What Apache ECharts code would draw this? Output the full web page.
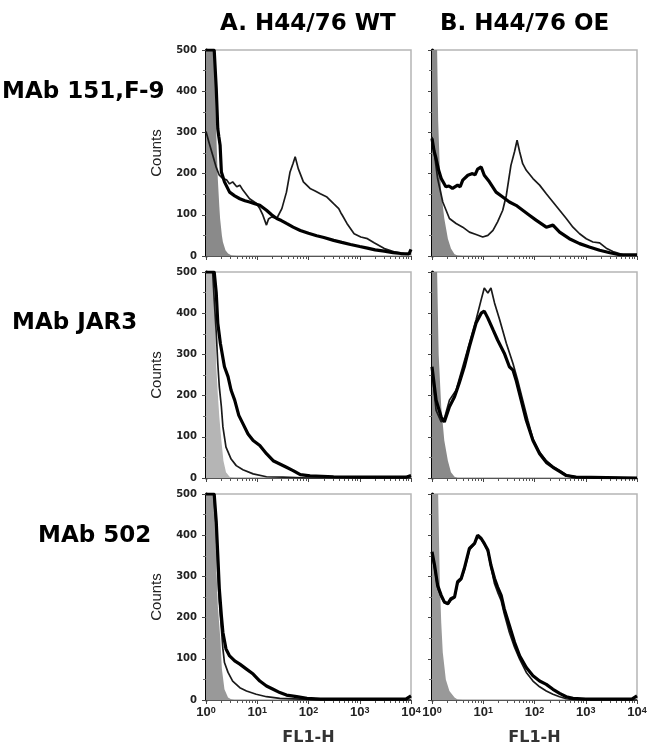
<!DOCTYPE html>
<html>
<head>
<meta charset="utf-8">
<script src="https://cdn.jsdelivr.net/npm/echarts@6/dist/echarts.min.js"></script>
<style>
  html, body { margin: 0; padding: 0; background: #fff; }
  #chart { width: 650px; height: 750px; }
</style>
</head>
<body>
<div id="chart"></div>
<script>
// x values are read in decades (10^x), y values are counts
var columnTitles = ['A. H44/76 WT', 'B. H44/76 OE']
var rowTitles = ['MAb 151,F-9', 'MAb JAR3', 'MAb 502']

// MAb 151,F-9
var wtF9Gray = [[0, 500], [0.16, 500], [0.2, 300], [0.23, 188], [0.26, 120], [0.275, 91], [0.31, 50], [0.33, 34], [0.38, 14], [0.43, 6], [0.5, 1], [0.6, 0]]
var wtF9Thick = [[0, 500], [0.16, 500], [0.2, 407], [0.23, 309], [0.25, 290], [0.275, 269], [0.3, 204], [0.36, 180], [0.46, 155], [0.56, 146], [0.66, 139], [0.76, 134], [0.85, 131], [0.95, 127], [1.05, 123], [1.18, 111], [1.28, 100], [1.38, 91], [1.47, 86], [1.57, 79], [1.7, 70], [1.84, 62], [2.0, 55], [2.16, 49], [2.3, 45], [2.49, 38], [2.65, 33], [2.82, 28], [3.0, 23], [3.15, 19], [3.3, 15], [3.48, 12], [3.65, 8], [3.8, 6], [3.96, 5], [4, 16]]
var wtF9Thin = [[0, 302], [0.06, 275], [0.13, 245], [0.2, 215], [0.26, 196], [0.33, 188], [0.4, 185], [0.46, 175], [0.52, 180], [0.6, 168], [0.66, 172], [0.72, 160], [0.85, 139], [0.98, 128], [1.05, 115], [1.11, 99], [1.18, 75], [1.22, 90], [1.28, 95], [1.38, 91], [1.48, 115], [1.57, 155], [1.64, 204], [1.7, 225], [1.74, 241], [1.8, 212], [1.9, 180], [2.03, 164], [2.13, 158], [2.23, 151], [2.36, 143], [2.49, 127], [2.59, 115], [2.63, 105], [2.66, 99], [2.75, 79], [2.89, 54], [3.02, 46], [3.15, 42], [3.28, 32], [3.48, 18], [3.67, 10], [3.87, 6], [4, 5]]
var oeF9Gray = [[0, 500], [0.1, 500], [0.12, 330], [0.15, 220], [0.18, 155], [0.24, 91], [0.31, 42], [0.37, 18], [0.44, 4], [0.5, 1], [0.6, 0]]
var oeF9Thick = [[0, 285], [0.04, 255], [0.08, 236], [0.13, 208], [0.18, 188], [0.27, 168], [0.33, 170], [0.4, 164], [0.5, 172], [0.55, 168], [0.6, 184], [0.7, 196], [0.79, 200], [0.84, 197], [0.89, 211], [0.96, 216], [1.02, 196], [1.12, 180], [1.25, 155], [1.38, 143], [1.51, 131], [1.64, 123], [1.77, 111], [1.9, 99], [2.03, 87], [2.23, 70], [2.36, 75], [2.49, 58], [2.68, 42], [2.88, 30], [3.07, 22], [3.27, 14], [3.47, 8], [3.66, 3], [4, 3]]
var oeF9Thin = [[0, 289], [0.05, 245], [0.11, 188], [0.21, 131], [0.34, 91], [0.47, 79], [0.6, 70], [0.73, 58], [0.86, 52], [0.99, 46], [1.09, 50], [1.19, 62], [1.28, 83], [1.38, 111], [1.45, 147], [1.5, 188], [1.54, 220], [1.61, 253], [1.66, 281], [1.71, 253], [1.77, 224], [1.84, 208], [1.97, 188], [2.1, 172], [2.23, 151], [2.36, 131], [2.49, 111], [2.62, 91], [2.75, 70], [2.88, 54], [3.01, 42], [3.14, 34], [3.27, 32], [3.4, 19], [3.53, 11], [3.73, 3], [4, 3]]

// MAb JAR3
var wtJarGray = [[0, 500], [0.16, 500], [0.2, 270], [0.23, 205], [0.26, 148], [0.3, 91], [0.34, 42], [0.39, 14], [0.46, 3], [0.55, 0]]
var wtJarThick = [[0, 500], [0.16, 500], [0.2, 449], [0.23, 376], [0.28, 327], [0.36, 270], [0.43, 246], [0.49, 213], [0.56, 189], [0.64, 152], [0.72, 132], [0.82, 107], [0.92, 91], [1.05, 79], [1.18, 59], [1.31, 42], [1.44, 34], [1.57, 26], [1.7, 18], [1.84, 8], [2.03, 5], [2.49, 3], [3.0, 2], [3.9, 2], [4, 6]]
var wtJarThin = [[0, 500], [0.13, 500], [0.16, 433], [0.2, 352], [0.23, 278], [0.26, 221], [0.3, 173], [0.33, 124], [0.39, 75], [0.49, 46], [0.59, 30], [0.72, 20], [0.92, 10], [1.18, 3], [1.5, 2], [2, 0], [4, 0]]
var oeJarGray = [[0, 500], [0.1, 500], [0.13, 300], [0.18, 173], [0.24, 91], [0.31, 42], [0.37, 14], [0.44, 3], [0.5, 0]]
var oeJarThick = [[0, 270], [0.08, 189], [0.18, 148], [0.24, 136], [0.34, 173], [0.44, 197], [0.53, 230], [0.63, 270], [0.73, 319], [0.86, 376], [0.96, 400], [1.02, 405], [1.09, 388], [1.19, 360], [1.28, 335], [1.41, 303], [1.51, 270], [1.58, 262], [1.64, 238], [1.74, 189], [1.84, 140], [1.97, 91], [2.1, 59], [2.23, 38], [2.36, 26], [2.49, 16], [2.62, 6], [2.81, 2], [4, 0]]
var oeJarThin = [[0, 262], [0.08, 164], [0.18, 136], [0.24, 144], [0.34, 189], [0.47, 213], [0.6, 270], [0.73, 327], [0.86, 384], [0.96, 433], [1.02, 461], [1.09, 449], [1.15, 461], [1.22, 425], [1.32, 384], [1.45, 327], [1.58, 278], [1.67, 238], [1.77, 189], [1.87, 140], [1.97, 95], [2.1, 63], [2.23, 42], [2.36, 28], [2.49, 18], [2.62, 8], [2.81, 2], [4, 0]]

// MAb 502
var wt502Gray = [[0, 500], [0.18, 500], [0.2, 330], [0.23, 230], [0.28, 148], [0.31, 75], [0.36, 26], [0.43, 6], [0.49, 2], [0.55, 0]]
var wt502Thick = [[0, 500], [0.16, 500], [0.2, 433], [0.23, 352], [0.26, 270], [0.3, 205], [0.33, 164], [0.39, 124], [0.46, 107], [0.56, 95], [0.66, 87], [0.79, 75], [0.92, 63], [1.05, 46], [1.18, 34], [1.31, 26], [1.44, 18], [1.57, 12], [1.77, 8], [1.97, 4], [2.23, 2], [3.9, 2], [4, 10]]
var wt502Thin = [[0, 500], [0.15, 500], [0.2, 417], [0.23, 311], [0.26, 238], [0.3, 173], [0.33, 124], [0.36, 91], [0.43, 67], [0.52, 46], [0.66, 30], [0.79, 22], [0.98, 14], [1.18, 8], [1.44, 4], [1.84, 2], [2.3, 0], [4, 0]]
var oe502Gray = [[0, 500], [0.12, 500], [0.15, 300], [0.18, 189], [0.21, 116], [0.27, 50], [0.34, 22], [0.44, 6], [0.5, 1], [0.6, 0]]
var oe502Thick = [[0, 360], [0.05, 327], [0.11, 278], [0.18, 254], [0.24, 238], [0.31, 234], [0.37, 246], [0.44, 250], [0.5, 287], [0.57, 295], [0.63, 319], [0.73, 368], [0.83, 380], [0.89, 400], [0.96, 392], [1.02, 380], [1.09, 364], [1.15, 327], [1.22, 295], [1.28, 274], [1.35, 254], [1.41, 221], [1.51, 181], [1.61, 140], [1.71, 107], [1.84, 79], [1.97, 59], [2.1, 46], [2.23, 38], [2.36, 26], [2.49, 16], [2.62, 8], [2.75, 4], [3.0, 2], [3.9, 2], [4, 10]]
var oe502Thin = [[0, 352], [0.05, 320], [0.11, 272], [0.18, 250], [0.24, 236], [0.31, 232], [0.37, 242], [0.44, 248], [0.5, 283], [0.57, 292], [0.63, 315], [0.73, 364], [0.83, 378], [0.89, 396], [0.96, 390], [1.02, 378], [1.09, 360], [1.15, 323], [1.22, 282], [1.28, 262], [1.35, 241], [1.41, 209], [1.51, 164], [1.61, 128], [1.71, 99], [1.84, 67], [1.97, 46], [2.1, 32], [2.23, 22], [2.36, 14], [2.49, 8], [2.62, 3], [2.75, 1], [4, 0]]

var panels = [
	{ gray: wtF9Gray, thick: wtF9Thick, thin: wtF9Thin, fill: '#8a8a8a' },
	{ gray: oeF9Gray, thick: oeF9Thick, thin: oeF9Thin, fill: '#8a8a8a' },
	{ gray: wtJarGray, thick: wtJarThick, thin: wtJarThin, fill: '#b5b5b5' },
	{ gray: oeJarGray, thick: oeJarThick, thin: oeJarThin, fill: '#8a8a8a' },
	{ gray: wt502Gray, thick: wt502Thick, thin: wt502Thin, fill: '#999' },
	{ gray: oe502Gray, thick: oe502Thick, thin: oe502Thin, fill: '#999' }
]

var colLeft = [206, 432]
var rowTop = [50, 272, 494]
var fontMain = 'DejaVu Sans'

function toFL(arr) {
	return arr.map(function (p) { return [Math.pow(10, p[0]), p[1]] })
}

var grids = [], xAxes = [], yAxes = [], series = []
panels.forEach(function (p, i) {
	var row = Math.floor(i / 2), col = i % 2
	var isBottom = row === 2
	grids.push({
		left: colLeft[col], top: rowTop[row], width: 205, height: 206,
		show: true, borderColor: '#b5b5b5', borderWidth: 1.5, backgroundColor: '#fff'
	})
	xAxes.push({
		gridIndex: i,
		type: 'log',
		logBase: 10,
		min: 1,
		max: 10000,
		axisLine: { lineStyle: { color: '#555', width: 1.2 } },
		axisTick: { show: true, length: 4, lineStyle: { color: '#444' } },
		minorTick: { show: true, splitNumber: 9, length: 3, lineStyle: { color: '#555' } },
		splitLine: { show: false },
		axisLabel: {
			show: isBottom,
			margin: 6,
			formatter: function (v) {
				var e = Math.round(Math.log10(v))
				return '{b|10}{s|' + e + '}'
			},
			rich: {
				b: { fontFamily: 'Liberation Sans', fontWeight: 'bold', fontSize: 13, color: '#222', verticalAlign: 'bottom' },
				s: { fontFamily: 'Liberation Sans', fontWeight: 'bold', fontSize: 9, color: '#222', verticalAlign: 'top' }
			}
		},
		name: isBottom ? 'FL1-H' : '',
		nameLocation: 'middle',
		nameGap: 30,
		nameTextStyle: { fontFamily: fontMain, fontWeight: 'bold', fontSize: 16, color: '#333' }
	})
	yAxes.push({
		gridIndex: i,
		type: 'value',
		min: 0,
		max: 500,
		interval: 100,
		axisLine: { show: true, lineStyle: { color: '#000', width: 3 } },
		axisTick: { show: true, length: 4, lineStyle: { color: '#444' } },
		minorTick: { show: true, splitNumber: 2, length: 3, lineStyle: { color: '#666' } },
		splitLine: { show: false },
		axisLabel: {
			show: col === 0,
			margin: 9,
			fontFamily: fontMain, fontWeight: 'bold', fontSize: 10, color: '#222'
		},
		name: col === 0 ? 'Counts' : '',
		nameLocation: 'middle',
		nameGap: 42,
		nameRotate: 90,
		nameTextStyle: { fontFamily: 'Liberation Sans', fontSize: 15, color: '#222' }
	})
	series.push({
		type: 'line', xAxisIndex: i, yAxisIndex: i,
		data: toFL(p.gray), showSymbol: false, symbol: 'none',
		lineStyle: { width: 0 },
		areaStyle: { color: p.fill, opacity: 1 },
		z: 1
	})
	series.push({
		type: 'line', xAxisIndex: i, yAxisIndex: i,
		data: toFL(p.thin), showSymbol: false, symbol: 'none',
		lineStyle: { color: '#1a1a1a', width: 1.7 },
		z: 2
	})
	series.push({
		type: 'line', xAxisIndex: i, yAxisIndex: i,
		data: toFL(p.thick), showSymbol: false, symbol: 'none',
		lineStyle: { color: '#000', width: 3.2 },
		z: 3
	})
})

var titleStyle = { fontFamily: fontMain, fontWeight: 'bold', fontSize: 23, fill: '#000' }
var graphics = [
	{ type: 'text', left: 220, top: 13, style: Object.assign({ text: columnTitles[0] }, titleStyle) },
	{ type: 'text', left: 440, top: 13, style: Object.assign({ text: columnTitles[1] }, titleStyle) },
	{ type: 'text', left: 2, top: 81, style: Object.assign({ text: rowTitles[0] }, titleStyle) },
	{ type: 'text', left: 12, top: 312, style: Object.assign({ text: rowTitles[1] }, titleStyle) },
	{ type: 'text', left: 38, top: 525, style: Object.assign({ text: rowTitles[2] }, titleStyle) }
]

var myChart = echarts.init(document.getElementById('chart'), null, { renderer: 'canvas' })
var option = {
	animation: false,
	backgroundColor: '#fff',
	grid: grids,
	xAxis: xAxes,
	yAxis: yAxes,
	series: series,
	graphic: graphics
}
myChart.setOption(option)
</script>
</body>
</html>
